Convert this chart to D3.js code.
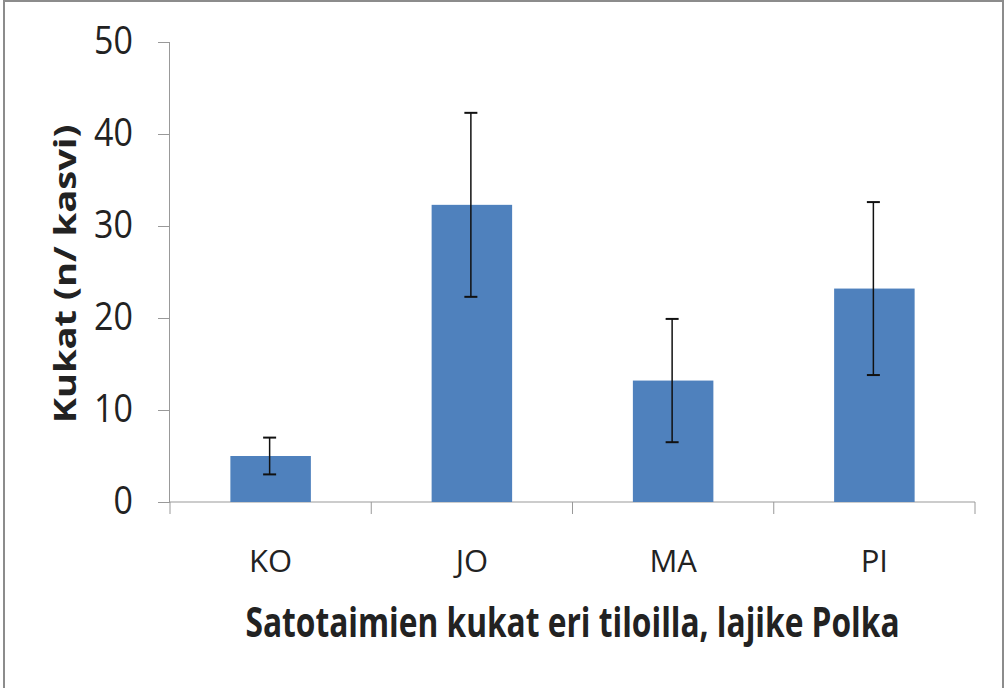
<!DOCTYPE html>
<html>
<head>
<meta charset="utf-8">
<script src="https://cdn.jsdelivr.net/npm/d3@7"></script>
<style>
  body { margin: 0; background: #fff; }
  svg { display: block; }
  text { font-family: 'Open Sans', sans-serif; fill: #222; }
</style>
</head>
<body>
<div id="chart"></div>
<script>
const categories = ['KO', 'JO', 'MA', 'PI']
const values = [5.0, 32.3, 13.2, 23.2]
const errors = [2.0, 10.0, 6.7, 9.4]
const yTicks = [0, 10, 20, 30, 40, 50]

const width = 1006
const height = 688

const margin = { top: 42, right: 31, bottom: 186, left: 170 }

const svg = d3.select('#chart')
  .append('svg')
  .attr('width', width)
  .attr('height', height)

// frame around the picture
svg.append('rect')
  .attr('x', 4)
  .attr('y', 1)
  .attr('width', 999)
  .attr('height', 700)
  .attr('fill', 'none')
  .attr('stroke', '#8c8c8c')
  .attr('stroke-width', 2)

const g = svg.append('g')
  .attr('transform', `translate(${margin.left},${margin.top})`)

const innerW = width - margin.left - margin.right
const innerH = height - margin.top - margin.bottom

const x = d3.scaleBand()
  .domain(categories)
  .range([0, innerW])
  .paddingInner(0.6)
  .paddingOuter(0.3)

const y = d3.scaleLinear()
  .domain([0, 50])
  .range([innerH, 0])

// y axis
const yAxis = d3.axisLeft(y)
  .tickValues(yTicks)
  .tickSize(12)
  .tickPadding(25)

const yg = g.append('g').call(yAxis)
yg.select('.domain').attr('stroke', '#999').attr('d', `M-0.5,0V${innerH}`)
yg.selectAll('.tick line').attr('stroke', '#999')
yg.selectAll('.tick text')
  .attr('font-size', 34)
  .attr('fill', '#222')
  .attr('font-family', "'Open Sans', sans-serif")
  .attr('transform', 'scale(1,1.1)')

// x axis with boundary ticks
const boundaries = d3.range(categories.length + 1).map(i => i * x.step())
const xg = g.append('g').attr('transform', `translate(0,${innerH})`)
xg.append('line')
  .attr('x1', 0).attr('x2', innerW)
  .attr('y1', 0).attr('y2', 0)
  .attr('stroke', '#999')
xg.selectAll('.bt')
  .data(boundaries)
  .enter()
  .append('line')
  .attr('class', 'bt')
  .attr('x1', d => d).attr('x2', d => d)
  .attr('y1', 0).attr('y2', 12)
  .attr('stroke', '#999')
xg.selectAll('.cat')
  .data(categories)
  .enter()
  .append('text')
  .attr('class', 'cat')
  .attr('x', d => x(d) + x.bandwidth() / 2)
  .attr('y', 70)
  .attr('text-anchor', 'middle')
  .attr('font-size', 31)
  .text(d => d)

// bars
g.selectAll('.bar')
  .data(categories)
  .enter()
  .append('rect')
  .attr('class', 'bar')
  .attr('x', d => x(d))
  .attr('width', x.bandwidth())
  .attr('y', (d, i) => y(values[i]))
  .attr('height', (d, i) => innerH - y(values[i]))
  .attr('fill', '#4f81bd')

// error bars
const capW = 13
const eb = g.selectAll('.err')
  .data(categories)
  .enter()
  .append('g')
  .attr('class', 'err')
  .attr('transform', d => `translate(${x(d) + x.bandwidth() / 2 - 1},0)`)
eb.append('line')
  .attr('y1', (d, i) => y(values[i] + errors[i]))
  .attr('y2', (d, i) => y(values[i] - errors[i]))
  .attr('stroke', '#111')
  .attr('stroke-width', 1.5)
eb.append('line')
  .attr('x1', -capW / 2).attr('x2', capW / 2)
  .attr('y1', (d, i) => y(values[i] + errors[i]))
  .attr('y2', (d, i) => y(values[i] + errors[i]))
  .attr('stroke', '#111')
  .attr('stroke-width', 2)
eb.append('line')
  .attr('x1', -capW / 2).attr('x2', capW / 2)
  .attr('y1', (d, i) => y(values[i] - errors[i]))
  .attr('y2', (d, i) => y(values[i] - errors[i]))
  .attr('stroke', '#111')
  .attr('stroke-width', 2)

// axis titles
svg.append('text')
  .attr('transform', `translate(76,${margin.top + innerH / 2 + 2}) rotate(-90) scale(1.27,1)`)
  .attr('text-anchor', 'middle')
  .attr('font-size', 30)
  .attr('font-weight', 'bold')
  .text('Kukat (n/ kasvi)')

svg.append('text')
  .attr('transform', `translate(${margin.left + innerW / 2},637) scale(1,1.28)`)
  .attr('text-anchor', 'middle')
  .attr('font-size', 31.7)
  .attr('font-weight', 'bold')
  .text('Satotaimien kukat eri tiloilla, lajike Polka')
</script>
</body>
</html>
